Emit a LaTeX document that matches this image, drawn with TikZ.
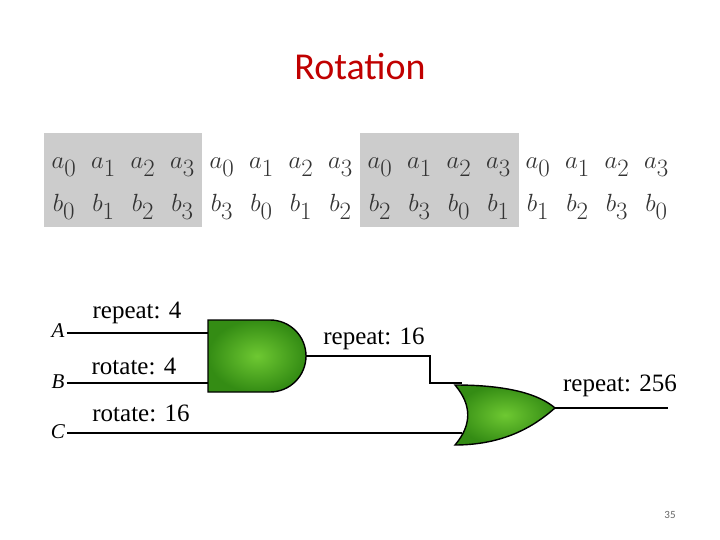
\documentclass[tikz,border=0pt]{standalone}
\usepackage{fontspec}
\setmainfont{Liberation Serif}
\newfontfamily\titlefont{Carlito}
\usetikzlibrary{positioning,calc}
\definecolor{gatelo}{RGB}{52,140,20}
\definecolor{gatehi}{RGB}{110,200,50}
\definecolor{titlered}{RGB}{192,0,0}
\tikzset{
  wire/.style={line width=1.6pt},
  lbl/.style={font=\fontsize{25}{27}\selectfont, inner sep=0pt},
  pin/.style={font=\fontsize{21}{23}\selectfont\itshape, inner sep=0pt},
  gate/.style={draw=black, line width=1.4pt, inner color=gatehi, outer color=gatelo},
  cell/.style={font=\fontsize{34}{36}\selectfont, inner sep=0pt, text=black!80}
}
\begin{document}
\begin{tikzpicture}[x=1pt,y=-1pt]
	\useasboundingbox (0,0) rectangle (720,540);
	
	% title
	\node[font=\titlefont\fontsize{38}{40}\selectfont, text=titlered] (title) at (360,67) {Rotation};
	
	% table
	\fill[black!20] (44,133) rectangle (202,227);
	\fill[black!20] (360,133) rectangle (519,227);
	\foreach \i/\b in {0/0,1/1,2/2,3/3,4/3,5/0,6/1,7/2,8/2,9/3,10/0,11/1,12/1,13/2,14/3,15/0}{
		\pgfmathtruncatemacro{\a}{mod(\i,4)}
		\node[cell] (a\i) at ({64+39.5*\i},167) {$a_{\a}$};
		\node[cell] (b\i) at ({64+39.5*\i},207) {$b_{\b}$};
	}
	
	% and gate
	\draw[gate] (208,320) -- (270,320) arc[start angle=-90, end angle=90, radius=36] -- (208,392) -- cycle;
	\coordinate (andA) at (208,333);
	\coordinate (andB) at (208,383);
	\coordinate (andY) at (306,356);
	
	% or gate
	\draw[gate] (455,385) .. controls (510,385) and (540,395) .. (555,408)
		.. controls (540,421) and (510,445) .. (455,445)
		.. controls (472,425) and (472,405) .. (455,385) -- cycle;
	\coordinate (orA) at (462,383);
	\coordinate (orB) at (462,433);
	\coordinate (orY) at (555,408);
	\coordinate (out) at (668,408);
	
	% inputs
	\node[pin] (A) at (58,331) {A};
	\node[pin] (B) at (58,382) {B};
	\node[pin] (C) at (58,432) {C};
	\draw[wire] (A.east) ++(2,2) -- (andA);
	\draw[wire] (B.east) ++(2,1) -- (andB);
	\draw[wire] (C.east) ++(2,1) -- (orB);
	\draw[wire] (andY) -| (430,383) -- (orA);
	\draw[wire] (orY) -- (out);
	
	% labels
	\node[lbl] (l1) at (137,313) {repeat: 4};
	\node[lbl] (l2) at (134,366) {rotate: 4};
	\node[lbl] (l3) at (141,413) {rotate: 16};
	\node[lbl] (l4) at (374,339) {repeat: 16};
	\node[lbl] (l5) at (620,386) {repeat: 256};
	
	\node[font=\titlefont\fontsize{11}{12}\selectfont, text=black!60] (page) at (670,515) {35};
\end{tikzpicture}
\end{document}
